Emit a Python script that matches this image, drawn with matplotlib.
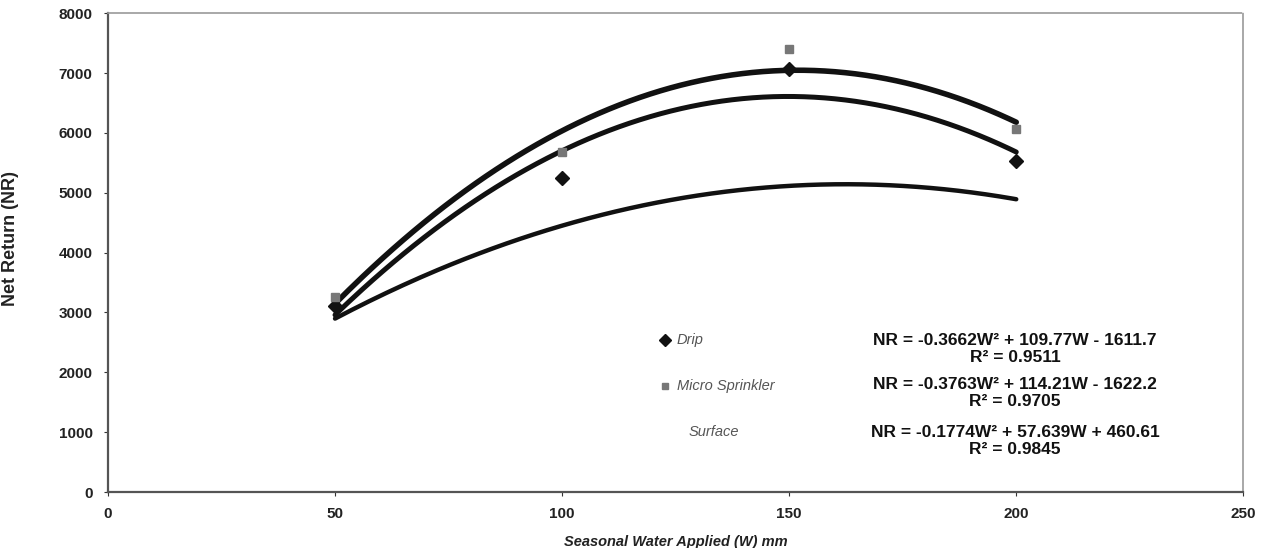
import matplotlib
matplotlib.use('Agg')
import matplotlib.pyplot as plt
import numpy as np

#Seasonal water applied (W) mm
water = [50, 100, 150, 200]

#Net return for every irrigation method
drip = [3110, 5250, 7060, 5530]
micro_sprinkler = [3265, 5680, 7400, 6060]
surface = [2850, 4595, 4970, 4940]

#Trendline labels printed on the chart
eq_drip = 'NR = -0.3662W² + 109.77W - 1611.7'
eq_micro = 'NR = -0.3763W² + 114.21W - 1622.2'
eq_surface = 'NR = -0.1774W² + 57.639W + 460.61'
r2_drip = 'R² = 0.9511'
r2_micro = 'R² = 0.9705'
r2_surface = 'R² = 0.9845'

yticks = [0, 1000, 2000, 3000, 4000, 5000, 6000, 7000, 8000]
xticks = [0, 50, 100, 150, 200, 250]

plt.rcParams['font.family'] = ['Liberation Sans', 'DejaVu Sans']

fig = plt.figure(figsize=(12.7, 5.48), dpi=100)
ax = fig.add_axes([0.085, 0.102, 0.894, 0.874])

#Quadratic trendlines, fitted from the points like the spreadsheet does
w_fine = np.linspace(min(water), max(water), 200)
for series, lw in [(micro_sprinkler, 4.0), (drip, 3.6), (surface, 3.2)]:
    coef = np.polyfit(water, series, 2)
    ax.plot(w_fine, np.polyval(coef, w_fine), color='#111111', lw=lw, solid_capstyle='round', zorder=2)

#Data points
ax.plot(water, drip, 'D', color='#111111', ms=7, zorder=3)
ax.plot(water, micro_sprinkler, 's', color='#777777', ms=6, zorder=3)
ax.plot(water, surface, '^', color='white', ms=6, zorder=1)

ax.set_xlim(0, 250)
ax.set_ylim(0, 8000)
ax.set_xticks(xticks)
ax.set_yticks(yticks)
ax.tick_params(axis='both', length=3, width=0.8, colors='#333333', labelsize=11, pad=8)
for lab in ax.get_xticklabels() + ax.get_yticklabels():
    lab.set_fontweight('bold')
    lab.set_color('#222222')

for side in ['left', 'bottom']:
    ax.spines[side].set_color('#555555')
    ax.spines[side].set_linewidth(1.6)
for side in ['top', 'right']:
    ax.spines[side].set_color('#999999')
    ax.spines[side].set_linewidth(1.2)
    ax.spines[side].set_linestyle((0, (2, 1)))

ax.set_xlabel('Seasonal Water Applied (W) mm', fontsize=10.5, fontweight='bold', style='italic', color='#222222', labelpad=10)
ax.set_ylabel('Net Return (NR)', fontsize=13, fontweight='bold', color='#222222')
ax.yaxis.set_label_coords(-0.078, 0.53)

#Legend written by hand next to the equations
ax.plot([0.491], [0.317], 'D', color='#111111', ms=6, transform=ax.transAxes, clip_on=False)
ax.plot([0.491], [0.222], 's', color='#777777', ms=5, transform=ax.transAxes, clip_on=False)
ax.text(0.501, 0.317, 'Drip', transform=ax.transAxes, fontsize=10.5, style='italic', color='#555555', va='center')
ax.text(0.501, 0.222, 'Micro Sprinkler', transform=ax.transAxes, fontsize=10.5, style='italic', color='#555555', va='center')
ax.text(0.511, 0.125, 'Surface', transform=ax.transAxes, fontsize=10.5, style='italic', color='#555555', va='center')

for y, eq, r2 in [(0.317, eq_drip, r2_drip), (0.225, eq_micro, r2_micro), (0.125, eq_surface, r2_surface)]:
    ax.text(0.799, y, eq, transform=ax.transAxes, fontsize=12.5, fontweight='bold', color='#111111', ha='center', va='center')
    ax.text(0.799, y - 0.036, r2, transform=ax.transAxes, fontsize=12.5, fontweight='bold', color='#111111', ha='center', va='center')

fig.savefig('out.png', dpi=100)
